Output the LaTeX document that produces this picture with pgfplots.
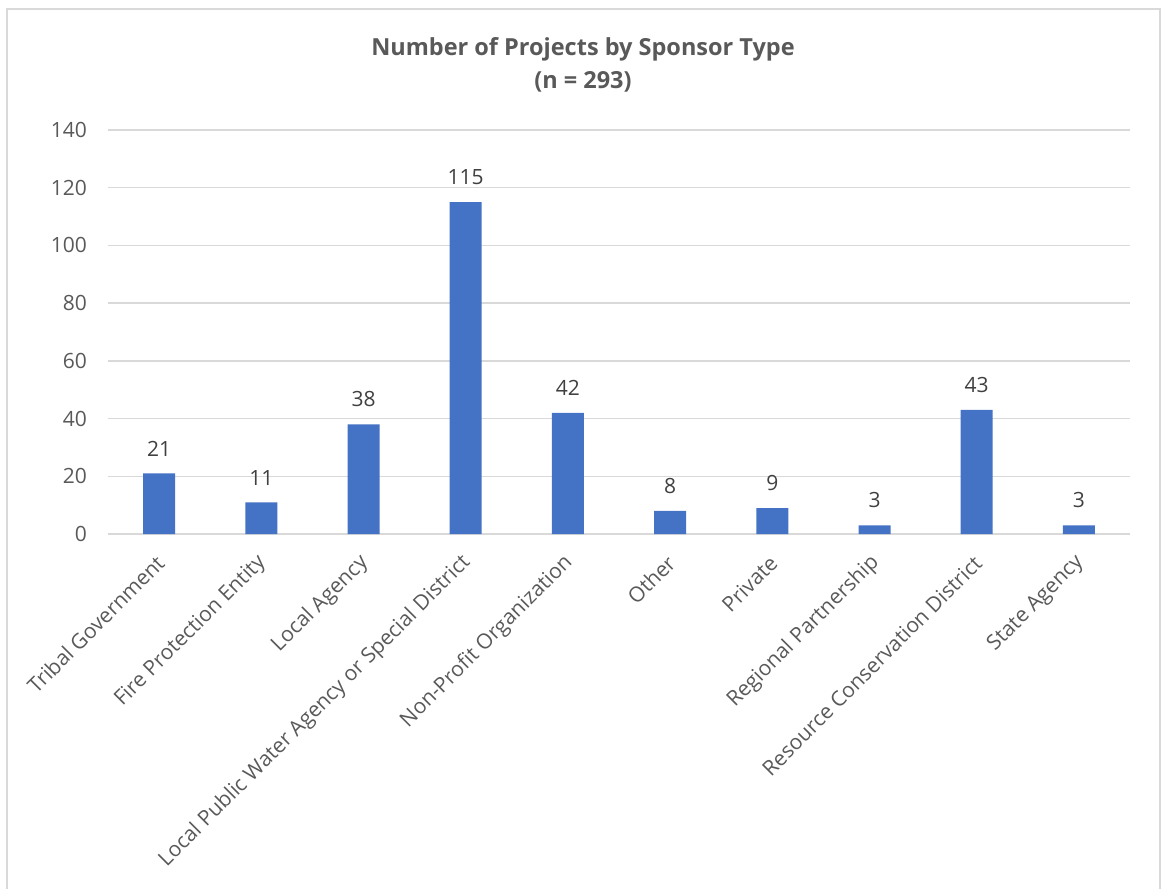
\documentclass[border=0pt]{standalone}
\usepackage{fontspec}
\setmainfont{Open Sans}
\usepackage{pgfplots}
\pgfplotsset{compat=1.18}
\definecolor{barblue}{HTML}{4472C4}
\definecolor{gridgray}{HTML}{D9D9D9}
\definecolor{ticktext}{HTML}{595959}
\definecolor{labeltext}{HTML}{404040}
\definecolor{bordergray}{HTML}{D9D9D9}
\begin{document}
\begin{tikzpicture}[x=1bp,y=1bp]
\begin{axis}[
  at={(0,0)}, anchor=south west,
  scale only axis, width=1022bp, height=404bp,
  xmin=-0.5, xmax=9.5, ymin=0, ymax=140,
  ybar, bar width=32bp,
  axis x line*=bottom, axis y line*=left,
  x axis line style={-, gridgray, line width=1.3bp},
  y axis line style={draw=none},
  major tick length=0pt,
  ymajorgrids, grid style={gridgray, line width=1.3bp},
  ytick={0,20,...,140},
  xtick={0,...,9},
  xticklabels={Tribal Government, Fire Protection Entity, Local Agency, Local Public Water Agency or Special District, Non-Profit Organization, Other, Private, Regional Partnership, Resource Conservation District, State Agency},
  /pgf/number format/assume math mode=true,
  yticklabel style={text=ticktext, font=\fontsize{21bp}{25bp}\selectfont, inner sep=0pt, xshift=-21bp},
  xticklabel style={text=ticktext, font=\fontsize{21bp}{25bp}\selectfont, rotate=45, anchor=east, inner sep=0pt, xshift=-17bp, yshift=-19bp},
  nodes near coords,
  every node near coord/.append style={text=labeltext, font=\fontsize{21bp}{25bp}\selectfont, anchor=south, inner sep=0pt, yshift=17bp},
]
\addplot[fill=barblue, draw=none] coordinates {(0,21) (1,11) (2,38) (3,115) (4,42) (5,8) (6,9) (7,3) (8,43) (9,3)};
\end{axis}
\node[font=\bfseries\fontsize{23.5bp}{28bp}\selectfont, text=ticktext] at (475,485) {Number of Projects by Sponsor Type};
\node[font=\bfseries\fontsize{23.5bp}{28bp}\selectfont, text=ticktext] at (475,452) {(n = 293)};
\draw[bordergray, line width=1.3bp] (-101,-380) rectangle (1052,525);
\pgfresetboundingbox
\path (-108,-355) rectangle (1059,534);
\end{tikzpicture}
\end{document}
